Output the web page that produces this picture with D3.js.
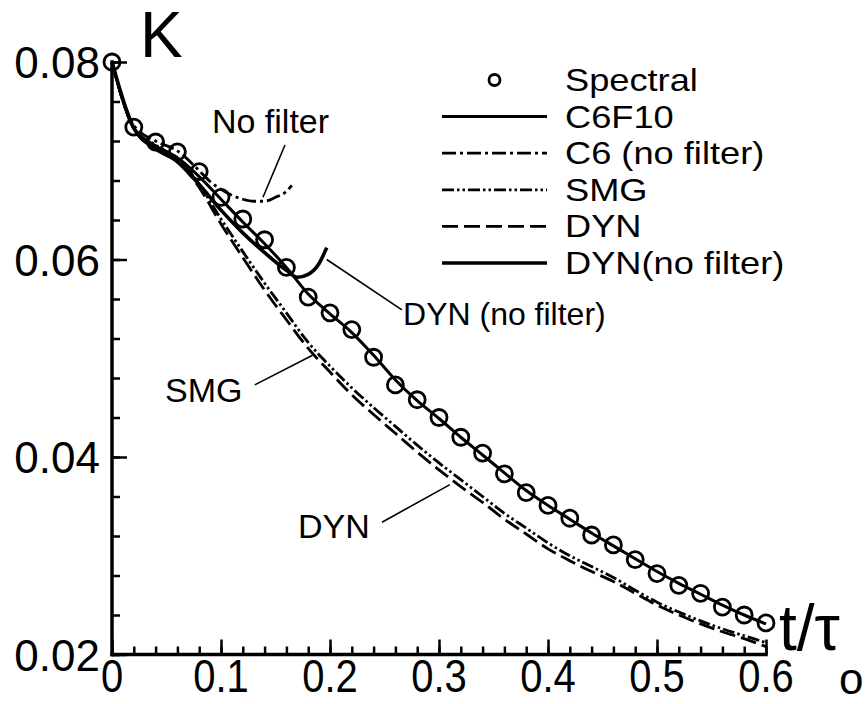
<!DOCTYPE html>
<html>
<head>
<meta charset="utf-8">
<script src="https://cdn.jsdelivr.net/npm/d3@7/dist/d3.min.js"></script>
<style>
  html, body { margin: 0; padding: 0; background: #fff; }
  svg { display: block; font-family: "Liberation Sans", Arial, Helvetica, sans-serif; }
</style>
</head>
<body>
<svg id="chart" width="867" height="704"></svg>
<script>
// ---- data ----
const tSpectral = [0,0.02,0.04,0.06,0.08,0.10,0.12,0.14,0.16,0.18,0.20,0.22,0.24,0.26,0.28,0.30,0.32,0.34,0.36,0.38,0.40,0.42,0.44,0.46,0.48,0.50,0.52,0.54,0.56,0.58,0.60];
const kSpectral = [0.0800,0.0734,0.0719,0.0709,0.0689,0.0663,0.0641,0.0620,0.0592,0.0562,0.0546,0.0529,0.0501,0.0473,0.0458,0.0440,0.0420,0.0404,0.0383,0.0364,0.0351,0.0338,0.0321,0.0311,0.0296,0.0282,0.0270,0.0262,0.0248,0.0240,0.0232];

const tC6F10 = tSpectral;
const kC6F10 = [0.0800,0.0733,0.0715,0.0703,0.0684,0.0661,0.0638,0.0616,0.0592,0.0565,0.0545,0.0526,0.0503,0.0478,0.0457,0.0439,0.0420,0.0402,0.0384,0.0366,0.0351,0.0337,0.0323,0.0310,0.0297,0.0284,0.0272,0.0261,0.0250,0.0240,0.0231];

const tC6nf = [0,0.02,0.04,0.06,0.08,0.09,0.10,0.11,0.12,0.13,0.14,0.15,0.16,0.165];
const kC6nf = [0.0800,0.0736,0.0720,0.0710,0.0690,0.0679,0.0671,0.0665,0.0661,0.0659,0.0659,0.0663,0.0669,0.0675];

const tSMG = tSpectral;
const kSMG = [0.0800,0.0733,0.0716,0.0702,0.0676,0.0641,0.0608,0.0576,0.0546,0.0516,0.0492,0.0470,0.0450,0.0431,0.0412,0.0394,0.0377,0.0360,0.0343,0.0328,0.0313,0.0300,0.0289,0.0278,0.0265,0.0253,0.0243,0.0234,0.0226,0.0219,0.0212];

const tDYN = tSpectral;
const kDYN = [0.0800,0.0733,0.0715,0.0700,0.0673,0.0636,0.0602,0.0569,0.0539,0.0510,0.0486,0.0463,0.0443,0.0424,0.0405,0.0387,0.0370,0.0354,0.0337,0.0322,0.0307,0.0295,0.0284,0.0274,0.0262,0.0250,0.0240,0.0231,0.0223,0.0216,0.0208];

const tDYNnf = [0,0.02,0.04,0.06,0.08,0.10,0.12,0.14,0.16,0.17,0.18,0.19,0.197];
const kDYNnf = [0.0800,0.0733,0.0712,0.0699,0.0676,0.0650,0.0627,0.0607,0.0589,0.0582,0.0585,0.0596,0.0612];

const xTicks = [0,0.1,0.2,0.3,0.4,0.5,0.6];
const xTickLabels = ["0","0.1","0.2","0.3","0.4","0.5","0.6"];
const yTicks = [0.02,0.04,0.06,0.08];
const yTickLabels = ["0.02","0.04","0.06","0.08"];

const legendNames = ["Spectral","C6F10","C6 (no filter)","SMG","DYN","DYN(no filter)"];

// annotations: text anchor (t,k) and leader line from/to in data units
const annotations = [
  {text:"No filter",       tx:0.0917, ty:0.0728, size:34, x1:0.1587, y1:0.0716, x2:0.1385, y2:0.0663},
  {text:"DYN (no filter)", tx:0.2670, ty:0.0534, size:32, x1:0.1970, y1:0.0600, x2:0.2660, y2:0.0549},
  {text:"SMG",             tx:0.0486, ty:0.0456, size:34, x1:0.1310, y1:0.0473, x2:0.1840, y2:0.0503},
  {text:"DYN",             tx:0.1706, ty:0.0318, size:34, x1:0.2477, y1:0.0334, x2:0.3100, y2:0.0372}
];

// ---- layout ----
const svg = d3.select("#chart");
const mLeft = 112, mTop = 62, pW = 654, pH = 592.5;
const x = d3.scaleLinear().domain([0,0.6]).range([mLeft, mLeft+pW]);
const y = d3.scaleLinear().domain([0.02,0.08]).range([mTop+pH, mTop]);

const styles = {
  C6F10:  {w:3,   dash:null},
  C6nf:   {w:2.8, dash:"14,4,3,4"},
  SMG:    {w:2.8, dash:"12,3,2.5,3,2.5,3"},
  DYN:    {w:2.8, dash:"16,6"},
  DYNnf:  {w:3.6, dash:null}
};

const line = d3.line().x(d => x(d[0])).y(d => y(d[1])).curve(d3.curveMonotoneX);
const zip = (a,b) => a.map((v,i) => [v,b[i]]);

const g = svg.append("g");

function drawSeries(t, k, st) {
  g.append("path").datum(zip(t,k))
    .attr("d", line).attr("fill","none").attr("stroke","#000")
    .attr("stroke-width", st.w).attr("stroke-dasharray", st.dash)
    .attr("stroke-linejoin","round");
}
drawSeries(tSMG, kSMG, styles.SMG);
drawSeries(tDYN, kDYN, styles.DYN);
drawSeries(tC6nf, kC6nf, styles.C6nf);
drawSeries(tDYNnf, kDYNnf, styles.DYNnf);
drawSeries(tC6F10, kC6F10, styles.C6F10);

g.selectAll("circle.sp").data(zip(tSpectral,kSpectral)).enter().append("circle")
  .attr("class","sp").attr("cx", d => x(d[0])).attr("cy", d => y(d[1]))
  .attr("r", 8).attr("fill","none").attr("stroke","#000").attr("stroke-width",2.8);

// ---- axes ----
const xMinor = d3.range(0, 0.6001, 0.02);
const yMinor = d3.range(0.02, 0.08001, 0.004);

const xAxisMinor = d3.axisBottom(x).tickValues(xMinor).tickSize(-8).tickFormat("");
const xAxisMajor = d3.axisBottom(x).tickValues(xTicks).tickSize(-15).tickFormat("");
const yAxisMinor = d3.axisLeft(y).tickValues(yMinor).tickSize(-8).tickFormat("");
const yAxisMajor = d3.axisLeft(y).tickValues(yTicks).tickSize(-15).tickFormat("");

function styleAxis(sel) {
  sel.select(".domain").remove();
  sel.selectAll(".tick line").attr("stroke","#000").attr("stroke-width",2.5);
}
svg.append("g").attr("transform",`translate(0,${mTop+pH})`).call(xAxisMinor).call(styleAxis);
svg.append("g").attr("transform",`translate(0,${mTop+pH})`).call(xAxisMajor).call(styleAxis);
svg.append("g").attr("transform",`translate(${mLeft},0)`).call(yAxisMinor).call(styleAxis);
svg.append("g").attr("transform",`translate(${mLeft},0)`).call(yAxisMajor).call(styleAxis);

// axis lines
svg.append("line").attr("x1", x(0)).attr("x2", x(0.6)).attr("y1", y(0.02)).attr("y2", y(0.02))
  .attr("stroke","#000").attr("stroke-width",3.5).attr("stroke-linecap","square");
svg.append("line").attr("x1", x(0)).attr("x2", x(0)).attr("y1", y(0.02)).attr("y2", y(0.08))
  .attr("stroke","#000").attr("stroke-width",3.5).attr("stroke-linecap","square");

// tick labels
xTicks.forEach((v,i) => {
  svg.append("text").attr("transform", `translate(${x(v)},${692}) scale(1,1.15)`)
    .attr("text-anchor","middle").attr("font-size",40).text(xTickLabels[i]);
});
yTicks.forEach((v,i) => {
  svg.append("text").attr("x", mLeft-12).attr("y", y(v)+16)
    .attr("text-anchor","end").attr("font-size",44).text(yTickLabels[i]);
});

// axis titles
svg.append("text").attr("x", 140).attr("y", 57).attr("font-size", 64).text("K");
svg.append("text").attr("x", 779).attr("y", 650).attr("font-size", 64).text("t/τ");
svg.append("text").attr("x", 839).attr("y", 694).attr("font-size", 44).text("o");

// ---- annotations ----
annotations.forEach(a => {
  svg.append("line").attr("x1", x(a.x1)).attr("y1", y(a.y1)).attr("x2", x(a.x2)).attr("y2", y(a.y2))
    .attr("stroke","#000").attr("stroke-width",1.6);
  svg.append("text").attr("x", x(a.tx)).attr("y", y(a.ty)).attr("font-size", a.size).text(a.text);
});

// ---- legend ----
const lg = svg.append("g");
const lx1 = 442, lx2 = 547, ltx = 565, ly0 = 80, ldy = 36.6;
legendNames.forEach((name,i) => {
  const yy = ly0 + i*ldy;
  if (i === 0) {
    lg.append("circle").attr("cx", (lx1+lx2)/2).attr("cy", yy).attr("r", 5.5)
      .attr("fill","none").attr("stroke","#000").attr("stroke-width",2.8);
  } else {
    const st = [styles.C6F10, styles.C6nf, styles.SMG, styles.DYN, styles.DYNnf][i-1];
    lg.append("line").attr("x1", lx1).attr("x2", lx2).attr("y1", yy).attr("y2", yy)
      .attr("stroke","#000").attr("stroke-width", st.w).attr("stroke-dasharray", st.dash);
  }
  lg.append("text").attr("transform", `translate(${ltx},${yy+11}) scale(1.15,1)`)
    .attr("font-size", 31.5).text(name);
});
</script>
</body>
</html>
